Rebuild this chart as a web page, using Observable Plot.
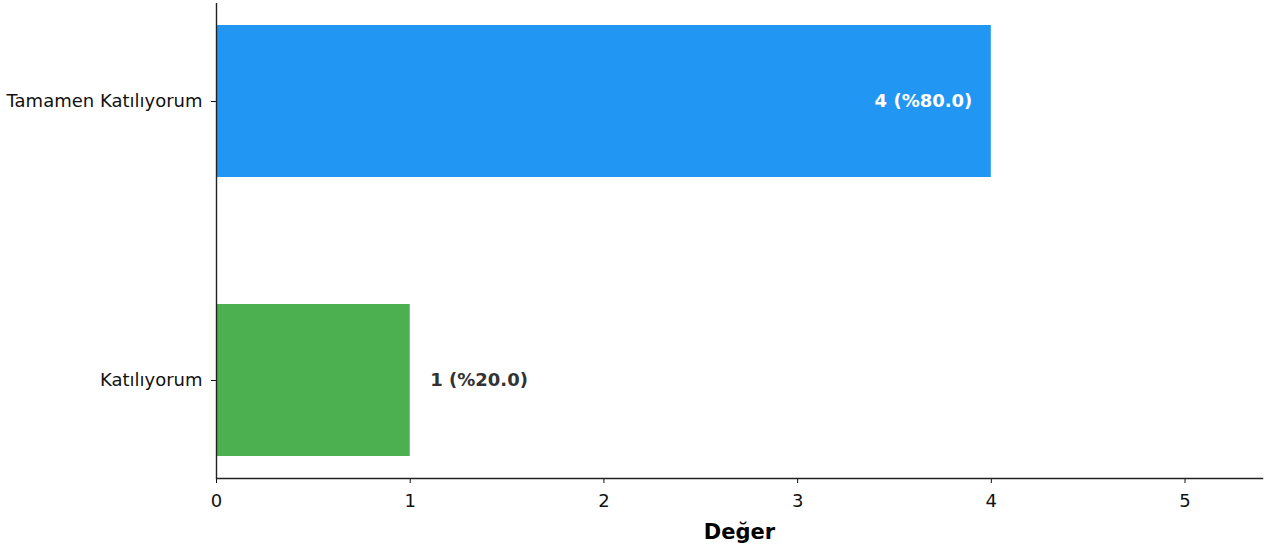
<!DOCTYPE html>
<html>
<head>
<meta charset="utf-8">
<script src="https://cdn.jsdelivr.net/npm/d3@7"></script>
<script src="https://cdn.jsdelivr.net/npm/@observablehq/plot@0.6"></script>
<style>
  html, body { margin: 0; padding: 0; background: #fff; }
  #chart svg { display: block; }
</style>
</head>
<body>
<div id="chart"></div>
<script>
const categories = ["Tamamen Katılıyorum", "Katılıyorum"];
const values = [4, 1];
const percents = [80.0, 20.0];
const colors = ["#2196F3", "#4CAF50"];
const xTicks = [0, 1, 2, 3, 4, 5];
const xLabel = "Değer";

const data = categories.map((c, i) => ({
  category: c,
  value: values[i],
  pct: percents[i],
  color: colors[i],
  label: `${values[i]} (%${percents[i].toFixed(1)})`
}));
const maxV = d3.max(values);
const inside = data.filter(d => d.value >= maxV * 0.5);
const outside = data.filter(d => d.value < maxV * 0.5);

const chart = Plot.plot({
  width: 1269,
  height: 550,
  marginLeft: 216,
  marginRight: 7,
  marginTop: 3,
  marginBottom: 72,
  style: { fontFamily: "DejaVu Sans", background: "#fff" },
  x: { domain: [0, maxV * 1.35], ticks: xTicks, label: null },
  y: { domain: categories, paddingInner: 0.454, paddingOuter: 0.078, label: null },
  marks: [
    Plot.barX(data, { x: "value", y: "category", fill: "color" }),
    Plot.text(inside, { x: "value", y: "category", text: "label", textAnchor: "end", dx: -19, fill: "white", fontWeight: "bold", fontSize: 18 }),
    Plot.text(outside, { x: "value", y: "category", text: "label", textAnchor: "start", dx: 20, fill: "#333", fontWeight: "bold", fontSize: 18 }),
    Plot.axisX({ ticks: xTicks, tickFormat: d3.format("d"), tickSize: 5, tickPadding: 11, fontSize: 18, color: "#111", label: null }),
    Plot.axisY({ tickSize: 5, tickPadding: 9, fontSize: 18, color: "#111", label: null }),
    Plot.text([xLabel], { frameAnchor: "bottom", dy: 60, text: d => d, fontWeight: "bold", fontSize: 21, fill: "#000" }),
    Plot.ruleX([0], { stroke: "#222", strokeWidth: 1.4 }),
    Plot.frame({ anchor: "bottom", stroke: "#222", strokeWidth: 1.4 })
  ]
});
document.getElementById("chart").appendChild(chart);
</script>
</body>
</html>
